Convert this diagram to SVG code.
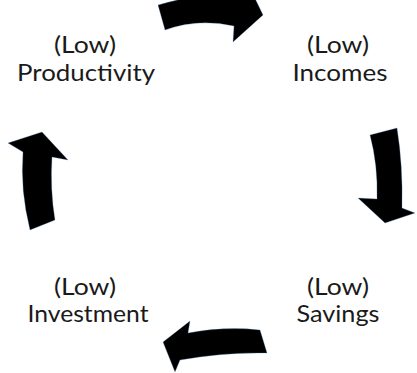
<svg xmlns="http://www.w3.org/2000/svg" width="417" height="373" viewBox="0 0 417 373">
<style>
.lbl{font-family:Lato,"Noto Sans",sans-serif;font-size:24px;fill:#1a1a1a;text-anchor:middle}
.arr{fill:#000;stroke:#5b8fd0;stroke-width:0.6;stroke-opacity:0.5}
</style>
<rect width="417" height="373" fill="#fff"/>
<g id="connectors">
<path class="arr" d="M165,30 Q198,18 234,26 L233,42 L263,15 L250,-12 L240,-2 Q200,-8 158,5 Z"/>
<path class="arr" d="M370,135 Q378,165 377,199 L358,198 L385,223 L415,213 L402,208 Q403,165 397,128 Z"/>
<path class="arr" d="M163,342 L190,321 L188,333 Q225,326 260,330 L267,353 Q225,352 180,360 L175,372 Z"/>
<path class="arr" d="M30,230 Q20,190 23,152 L8,143 L42,132 L68,160 L52,157 Q50,190 55,220 Z"/>
</g>
<g id="productivity"><text class="lbl" x="85" y="53" textLength="62" lengthAdjust="spacingAndGlyphs">(Low)</text><text class="lbl" x="86" y="81" textLength="138" lengthAdjust="spacingAndGlyphs">Productivity</text></g>
<g id="incomes"><text class="lbl" x="338" y="53" textLength="62" lengthAdjust="spacingAndGlyphs">(Low)</text><text class="lbl" x="340" y="81" textLength="95" lengthAdjust="spacingAndGlyphs">Incomes</text></g>
<g id="savings"><text class="lbl" x="338" y="295" textLength="62" lengthAdjust="spacingAndGlyphs">(Low)</text><text class="lbl" x="338" y="322" textLength="83" lengthAdjust="spacingAndGlyphs">Savings</text></g>
<g id="investment"><text class="lbl" x="85" y="295" textLength="62" lengthAdjust="spacingAndGlyphs">(Low)</text><text class="lbl" x="88" y="322" textLength="121" lengthAdjust="spacingAndGlyphs">Investment</text></g>
</svg>
